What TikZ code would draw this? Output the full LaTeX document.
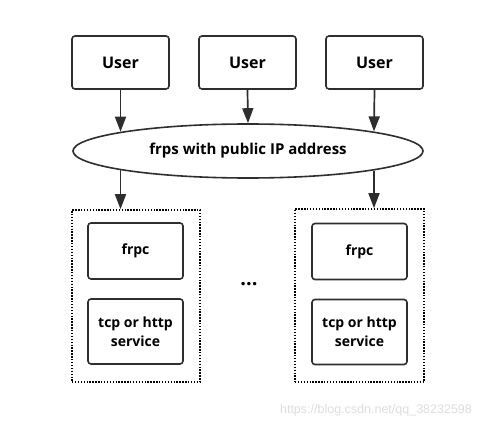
\documentclass[tikz,border=0pt]{standalone}
\usepackage{fontspec}
\setmainfont{Open Sans}
\newfontfamily\markfont{Liberation Sans}
\usepackage{tikz}
\usetikzlibrary{calc}
\usetikzlibrary{shapes.geometric, arrows.meta}
\definecolor{linegray}{HTML}{2E2E2E}
\definecolor{markgray}{HTML}{DDDDDD}
\tikzstyle{user} = [rectangle, rounded corners=3pt, minimum width=97pt, minimum height=53pt, text centered, draw=linegray, line width=1.6pt, font=\bfseries\fontsize{16}{19}\selectfont]
\tikzstyle{server} = [ellipse, minimum width=350pt, minimum height=54pt, inner sep=0pt, text centered, draw=linegray, line width=1.6pt, font=\bfseries\fontsize{15}{18}\selectfont]
\tikzstyle{client} = [rectangle, minimum width=128pt, minimum height=172pt, draw=black, line width=1.6pt, dash pattern=on 1.4pt off 1.5pt]
\tikzstyle{process} = [rectangle, rounded corners=3pt, minimum width=95pt, minimum height=56pt, text centered, align=center, draw=linegray, line width=1.6pt, font=\bfseries\fontsize{14}{19}\selectfont]
\tikzstyle{arrow} = [line width=1.7pt, draw=linegray, -{Triangle[length=15pt,width=11pt]}]

\begin{document}
\begin{tikzpicture}[x=1pt, y=-1pt, node distance=127pt]
\useasboundingbox (0,0) rectangle (499,428);
\node(user1)[user] at (120.5,62.5) {User};
\node(user2)[user,right of=user1] {User};
\node(user3)[user,right of=user2] {User};
\node(frps)[server] at (248,151) {frps with public IP address};

\node(client1)[client] at (136,296) {};
\node(client2)[client,minimum width=129pt,minimum height=173pt] at (359.5,295.5) {};
\node(frpc1)[process] at (135.5,251) {frpc};
\node(svc1)[process,minimum height=65pt] at (135.5,331.5) {tcp or http\\service};
\node(frpc2)[process] at (359.5,251.5) {frpc};
\node(svc2)[process,minimum height=65pt] at (359.5,332) {tcp or http\\service};
\node(more) at (249,284) {\bfseries\fontsize{20}{20}\selectfont ...};

% ends of the arrows on the ellipse
\coordinate(in1) at ($(frps.center)+(-127.5,-19.3)$);
\coordinate(in3) at ($(frps.center)+(126,-19.6)$);
\coordinate(out1) at ($(frps.center)+(-127.5,19.3)$);
\coordinate(out2) at ($(frps.center)+(126,19.6)$);

\draw[arrow] (user1.south) -- (in1);
\draw[arrow] (user2.south) -- (frps.north);
\draw[arrow] (user3.south) -- (in3);
\draw[arrow] (out1) -- (out1 |- client1.north);
\draw[arrow] (out2) -- (out2 |- client2.north);

\node(mark)[text=markgray, font=\markfont\fontsize{12.5}{15}\selectfont] at (376,410) {https://blog.csdn.net/qq\_38232598};
\end{tikzpicture}
\end{document}
